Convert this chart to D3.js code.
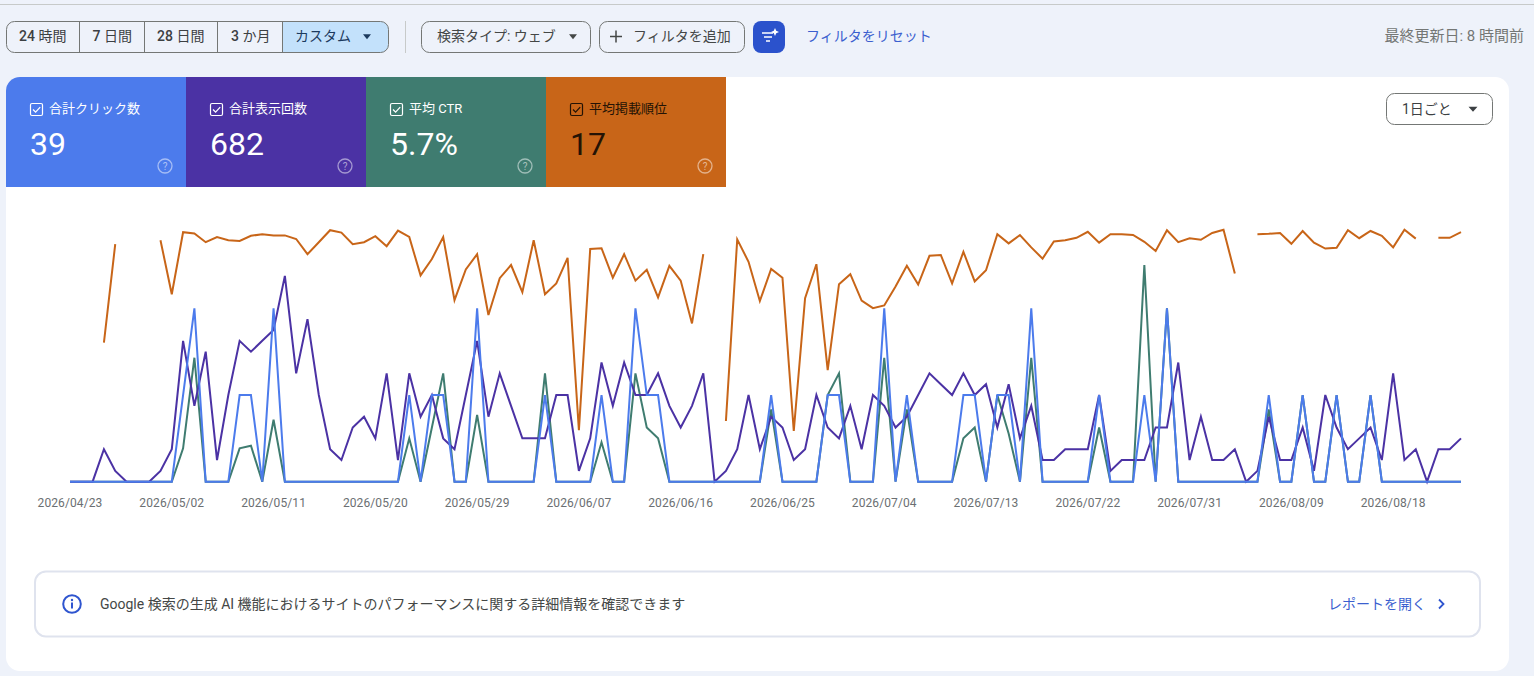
<!DOCTYPE html>
<html lang="ja"><head><meta charset="utf-8">
<script src="https://cdn.jsdelivr.net/npm/d3@7"></script>
<style>html,body{margin:0;padding:0;background:#eef2fa;overflow:hidden}svg{display:block}
text{font-family:Roboto,"Noto Sans CJK JP",sans-serif}</style></head><body>
<svg id="c" width="1534" height="676"></svg>
<script>
const startDate = "2026-04-23";
const tickLabels = ["2026/04/23","2026/05/02","2026/05/11","2026/05/20","2026/05/29","2026/06/07","2026/06/16","2026/06/25","2026/07/04","2026/07/13","2026/07/22","2026/07/31","2026/08/09","2026/08/18"];
const clicks = [0,0,0,0,0,0,0,0,0,0, 1,2,0,0,0,1,1,0,2,0, 0,0,0,0,0,0,0,0,0,0, 1,0,1,1,0,0,2,0,0,0,
 0,0,1,0,0,0,0,1,0,0, 2,1,1,0,0,0,0,0,0,0, 0,0,1,0,0,0,0,1,1,0, 0,0,2,0,1,0,0,0,0,1,
 1,0,1,1,0,2,0,0,0,0, 0,1,0,0,0,1,0,2,0,0, 0,0,0,0,0,0,1,0,0,1, 0,0,1,0,0,1,0,0,0,0, 0,0,0,0];
const impressions = [0,0,0,3,1,0,0,0,1,3, 13,7,12,2,8,13,12,13,14,19, 10,15,8,3,2,5,6,4,10,2, 10,6,8,4,3,8,13,6,10,7,
 4,4,4,8,8,1,4,11,7,11, 8,8,10,7,5,7,10,0,1,3, 8,3,6,5,2,3,8,5,4,7, 3,8,7,5,6,8,10,9,8,10,
 8,9,5,9,4,7,2,2,3,3, 3,8,1,2,2,2,5,5,11,2, 6,2,2,3,0,1,6,2,2,5, 1,8,5,3,4,5,2,10,2,3, 0,3,3,4];
const ctr = [0,0,0,0,0,0,0,0,0,0, 7.7,28.6,0,0,0,7.7,8.3,0,14.3,0, 0,0,0,0,0,0,0,0,0,0, 10,0,12.5,25,0,0,15.4,0,0,0,
 0,0,25,0,0,0,0,9.1,0,0, 25,12.5,10,0,0,0,0,0,0,0, 0,0,16.7,0,0,0,0,20,25,0, 0,0,28.6,0,16.7,0,0,0,0,10,
 12.5,0,20,11.1,0,28.6,0,0,0,0, 0,12.5,0,0,0,50,0,40,0,0, 0,0,0,0,0,0,16.7,0,0,20, 0,0,20,0,0,20,0,0,0,0, 0,0,0,0];
const position = [null,null,null,31.9,7.3,null,null,null,6.3,19.8, 4.3,4.6,6.8,5.5,6.3,6.5,5.2,4.8,5.1,5.1,
 6.0,9.8,6.8,3.8,4.4,7.3,6.8,5.3,7.8,3.9, 5.5,15.1,11,5.5,21.3,13.6,9.8,25,15.8,12.5,
 19.3,6.3,19.8,17.1,10.7,53.8,8.5,8.3,15.7,9.8, 16.4,13.7,20.6,12.7,16.4,27.1,9.8,null,51.5,6.1,
 11.7,21.5,13.5,15.7,54,20.8,12.3,38.8,17.3,14.8, 21.4,23.3,22.6,17.9,12.7,17.4,10.2,10,17.1,9.2,
 16.6,13.8,4.8,7.1,5,8.1,10.9,6.6,6.3,5.7, 4.2,6.9,4.8,4.8,5,6.7,9,3.8,6.8,5.8,
 6.2,4.5,3.7,14.6,null,4.8,4.7,4.5,7.2,4, 6.9,8.4,8.2,3.8,5.8,4,5.2,8.1,3.7,5.9, null,5.7,5.7,4.3];
const presets = ["24 時間","7 日間","28 日間","3 か月","カスタム"];
const cardTitles = ["合計クリック数","合計表示回数","平均 CTR","平均掲載順位"];
const cardValues = ["39","682","5.7%","17"];
const cardColors = ["#4c7bec","#4b32a4","#3f7c70","#c86518"];
const cardText = ["#fff","#fff","#fff","#241305"];

const svg = d3.select("#c");
const FONT_UI = 'Roboto,"Noto Sans CJK JP",sans-serif';
function txt(x,y,s,size,fill,anchor,weight){
  return svg.append("text").attr("x",x).attr("y",y).attr("dy","0.35em").attr("font-size",size)
    .attr("fill",fill).attr("text-anchor",anchor||"start").attr("font-weight",weight||400).text(s);
}
function caret(x,y,fill,w){w=w||4.5;
  svg.append("path").attr("d",`M${x-w},${y-2.3}L${x+w},${y-2.3}L${x},${y+2.7}Z`).attr("fill",fill);
}
// top rule
svg.append("rect").attr("x",0).attr("y",4).attr("width",1534).attr("height",1).attr("fill","#c7cac9");

// preset group
const gx=[6,79.5,144.5,217.5,282.5,388.5];
svg.append("clipPath").attr("id","pc").append("rect").attr("x",6.5).attr("y",21.5).attr("width",382).attr("height",31).attr("rx",8);
svg.append("rect").attr("x",282.5).attr("y",21).attr("width",107).attr("height",32).attr("fill","#c3e1fb").attr("clip-path","url(#pc)");
svg.append("rect").attr("x",6.5).attr("y",21.5).attr("width",382).attr("height",31).attr("rx",8).attr("fill","none").attr("stroke","#747775");
gx.slice(1,5).forEach(x=>svg.append("line").attr("x1",x).attr("x2",x).attr("y1",21.5).attr("y2",52.5).attr("stroke","#747775"));
[19,92.5,157,231,295].forEach((x,i)=>{
  const t=svg.append("text").attr("x",x).attr("y",36.5).attr("dy","0.35em").attr("font-size",14).attr("fill",i==4?"#1c3a5e":"#3c4043");
  if(i<4){const p=presets[i].split(" ");t.append("tspan").attr("font-weight",500).text(p[0]);t.append("tspan").text(" "+p[1]);}
  else t.text(presets[i]);
});
caret(367,36.5,"#1c3a5e",4);
svg.append("line").attr("x1",405.5).attr("x2",405.5).attr("y1",21).attr("y2",53).attr("stroke","#c7cac9");

function btn(x,w,y,h){svg.append("rect").attr("x",x+.5).attr("y",y+.5).attr("width",w-1).attr("height",h-1).attr("rx",8).attr("fill","none").attr("stroke","#747775");}
btn(421,170,21,32); txt(437,36.5,"検索タイプ: ウェブ",14,"#444746");
caret(573,36.5,"#444746",4);
btn(599,146,21,32);
svg.append("path").attr("d","M616,30.5V42.5M610,36.5H622").attr("stroke","#444746").attr("stroke-width",1.5);
txt(633,36.5,"フィルタを追加",14,"#444746");
svg.append("rect").attr("x",753).attr("y",21).attr("width",32).attr("height",32).attr("rx",8).attr("fill","#2b52cc");
svg.append("path").attr("d","M762,33H773M764,37H772M766,41H770").attr("stroke","#fff").attr("stroke-width",1.6);
svg.append("path").attr("d","M775,28l1.2,2.8L779,32l-2.8,1.2L775,36l-1.2-2.8L771,32l2.8-1.2Z").attr("fill","#fff");
txt(806,36,"フィルタをリセット",14,"#3b5fcf");
txt(1524,36,"最終更新日: 8 時間前",15,"#747775","end");

// panel
svg.append("rect").attr("x",6).attr("y",77).attr("width",1503).attr("height",594).attr("rx",14).attr("fill","#fff");

// scorecards
svg.append("clipPath").attr("id","cc").append("path").attr("d","M6,187V91a14,14 0 0 1 14,-14H726V187Z");
cardTitles.forEach((t,i)=>{
  const x=6+180*i;
  svg.append("rect").attr("x",x).attr("y",77).attr("width",180).attr("height",110).attr("fill",cardColors[i]).attr("clip-path","url(#cc)");
  const c=cardText[i];
  svg.append("rect").attr("x",x+24.5).attr("y",103.5).attr("width",12).attr("height",12).attr("rx",1.5).attr("fill","none").attr("stroke",c).attr("stroke-width",1.2);
  svg.append("path").attr("d",`M${x+27},109.5l2.6,2.6l4.6,-5`).attr("fill","none").attr("stroke",c).attr("stroke-width",1.3);
  txt(x+43,108.5,t,13,c);
  txt(x+24,144,cardValues[i],32,c);
  svg.append("circle").attr("cx",x+159).attr("cy",166).attr("r",7).attr("fill","none").attr("stroke","#fff").attr("stroke-opacity",.5).attr("stroke-width",1.3);
  svg.append("text").attr("x",x+159).attr("y",166).attr("dy","0.36em").attr("text-anchor","middle").attr("font-size",10).attr("fill","#fff").attr("fill-opacity",.55).text("?");
});

// granularity
btn(1386,107,93,32);
txt(1402,109,"1日ごと",14,"#3c4043");
caret(1473,109,"#3c4043",4.5);

// chart
const parse=d3.utcParse("%Y-%m-%d");
const d0=parse(startDate);
const days=clicks.map((_,i)=>d3.utcDay.offset(d0,i));
const x=d3.scaleUtc().domain([days[0],days[days.length-1]]).range([70,1461]);
const yBase=481.7,yTop=265;
const yClicks=d3.scaleLinear().domain([0,2.5]).range([yBase,yTop]);
const yImp=d3.scaleLinear().domain([0,20]).range([yBase,yTop]);
const yCtr=d3.scaleLinear().domain([0,50]).range([yBase,yTop]);
const yPos=d3.scaleLinear().domain([0,66.7]).range([215,481.8]);
const series=[
 [position,yPos,cardColors[3]],
 [ctr,yCtr,cardColors[2]],
 [impressions,yImp,cardColors[1]],
 [clicks,yClicks,cardColors[0]]];
series.forEach(([vals,y,col])=>{
  const line=d3.line().defined(v=>v!=null).x((v,i)=>x(days[i])).y(v=>y(v)).curve(d3.curveLinear);
  svg.append("path").attr("d",line(vals)).attr("fill","none").attr("stroke",col).attr("stroke-width",2).attr("stroke-linejoin","miter");
});
const fmt=d3.utcFormat("%Y/%m/%d");
const tickDates=tickLabels.map(s=>d3.utcParse("%Y/%m/%d")(s));
const ax=svg.append("g").attr("transform","translate(-0.5,490)").call(d3.axisBottom(x).tickValues(tickDates).tickFormat(fmt).tickSize(0).tickPadding(8));
ax.select(".domain").remove();
ax.selectAll("text").attr("font-size",12).attr("fill","#6b6f72").attr("font-family",FONT_UI).attr("letter-spacing",0.1);

// info card
svg.append("rect").attr("x",35).attr("y",571.5).attr("width",1445).attr("height",65).attr("rx",11).attr("fill","none").attr("stroke","#dfe3ee").attr("stroke-width",2);
svg.append("circle").attr("cx",72).attr("cy",604).attr("r",8.8).attr("fill","none").attr("stroke","#2f55cf").attr("stroke-width",2);
svg.append("circle").attr("cx",72).attr("cy",600).attr("r",1.2).attr("fill","#2f55cf");
svg.append("rect").attr("x",71).attr("y",602.5).attr("width",2).attr("height",6).attr("fill","#2f55cf");
txt(100,604,"Google 検索の生成 AI 機能におけるサイトのパフォーマンスに関する詳細情報を確認できます",14,"#444746");
txt(1328,604,"レポートを開く",14,"#3b5fcf");
svg.append("path").attr("d","M1439,599.5L1443.5,604L1439,608.5").attr("fill","none").attr("stroke","#2f55cf").attr("stroke-width",1.8);
</script></body></html>
